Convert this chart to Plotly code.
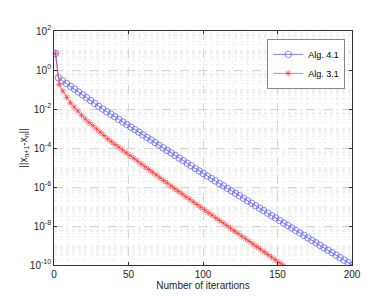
import plotly.graph_objects as go

# Iteration indices where values were recorded
alg41_iter = [1] + [round(3 + 2.7 * k, 1) for k in range(74)]
alg31_iter = [1] + [3.5 + 2.5 * k for k in range(61)]

# log10 of ||x_{n+1} - x_n||
alg41_log = [0.85,
    -0.40, -0.55, -0.69, -0.84, -0.98, -1.13, -1.28, -1.42, -1.57, -1.71,
    -1.86, -2.00, -2.14, -2.27, -2.40, -2.53, -2.67, -2.80, -2.93, -3.06,
    -3.19, -3.33, -3.46, -3.59, -3.72, -3.86, -3.99, -4.12, -4.25, -4.38,
    -4.52, -4.65, -4.78, -4.91, -5.05, -5.18, -5.31, -5.44, -5.56, -5.69,
    -5.82, -5.94, -6.07, -6.20, -6.32, -6.45, -6.58, -6.71, -6.83, -6.96,
    -7.09, -7.21, -7.34, -7.47, -7.59, -7.72, -7.85, -7.97, -8.10, -8.23,
    -8.36, -8.48, -8.61, -8.74, -8.86, -8.99, -9.12, -9.24, -9.37, -9.50,
    -9.62, -9.75, -9.88, -10.00]
alg31_log = [0.85,
    -0.75, -1.08, -1.40, -1.69, -1.90, -2.11, -2.32, -2.52, -2.69, -2.85,
    -3.02, -3.19, -3.36, -3.53, -3.68, -3.82, -3.96, -4.10, -4.25, -4.39,
    -4.53, -4.67, -4.82, -4.96, -5.10, -5.24, -5.38, -5.53, -5.67, -5.81,
    -5.95, -6.09, -6.23, -6.36, -6.50, -6.63, -6.77, -6.90, -7.04, -7.17,
    -7.31, -7.44, -7.58, -7.71, -7.84, -7.98, -8.11, -8.25, -8.38, -8.52,
    -8.65, -8.79, -8.92, -9.06, -9.19, -9.33, -9.46, -9.60, -9.73, -9.87,
    -10.00]

series_names = ["Alg. 4.1", "Alg. 3.1"]
y_tick_vals = [1e2, 1e0, 1e-2, 1e-4, 1e-6, 1e-8, 1e-10]
y_tick_text = ["10<sup>2</sup>", "10<sup>0</sup>", "10<sup>-2</sup>", "10<sup>-4</sup>",
               "10<sup>-6</sup>", "10<sup>-8</sup>", "10<sup>-10</sup>"]
x_tick_vals = [0, 50, 100, 150, 200]

alg41_val = [10 ** v for v in alg41_log]
alg31_val = [10 ** v for v in alg31_log]

fig = go.Figure()
fig.add_trace(go.Scatter(
    x=alg41_iter, y=alg41_val, name=series_names[0], mode="lines+markers",
    line=dict(color="rgb(40,40,255)", width=0.6),
    marker=dict(symbol="circle-open", size=6.5, color="rgb(60,60,255)", line=dict(width=0.6)),
))
fig.add_trace(go.Scatter(
    x=alg31_iter, y=alg31_val, name=series_names[1], mode="lines+markers",
    line=dict(color="rgb(255,30,30)", width=0.6),
    marker=dict(symbol="asterisk-open", size=5.5, color="rgb(255,40,40)", line=dict(width=0.6, color="rgb(255,40,40)")),
))

font = "Liberation Sans, Arial, sans-serif"
axis_common = dict(
    showline=True, linecolor="#333333", linewidth=0.8, mirror="ticks",
    ticks="inside", ticklen=3, tickcolor="#333333",
    tickfont=dict(family=font, size=10, color="#262626"),
    zeroline=False, showgrid=True, gridcolor="#d6d6d6", griddash="dash", gridwidth=0.7,
    automargin=False,
)

fig.update_xaxes(
    range=[0, 200], tickvals=x_tick_vals,
    title=dict(text="Number of iterartions", font=dict(family=font, size=10, color="#262626"), standoff=0),
    minor=dict(dtick=10, showgrid=True, gridcolor="#f2f2f2", griddash="dot", gridwidth=0.6, ticks=""),
    **axis_common,
)
fig.update_yaxes(
    type="log", range=[-10, 2], tickvals=y_tick_vals, ticktext=y_tick_text,
    title=dict(text="||x<sub>n+1</sub>-x<sub>n</sub>||", font=dict(family=font, size=10, color="#262626"), standoff=0),
    minor=dict(dtick="D1", showgrid=True, gridcolor="#f0f0f0", griddash="dot", gridwidth=0.6, ticks=""),
    **axis_common,
)

fig.update_layout(
    width=370, height=290,
    margin=dict(l=46, r=26, t=23, b=33),
    paper_bgcolor="white", plot_bgcolor="white",
    font=dict(family=font, size=10, color="#262626"),
    showlegend=True,
    legend=dict(
        x=0.975, y=0.965, xanchor="right", yanchor="top",
        bgcolor="white", bordercolor="#555555", borderwidth=0.7,
        font=dict(family=font, size=9, color="#000000"),
        itemwidth=30, tracegroupgap=0,
    ),
)

fig.write_html("out.html")
